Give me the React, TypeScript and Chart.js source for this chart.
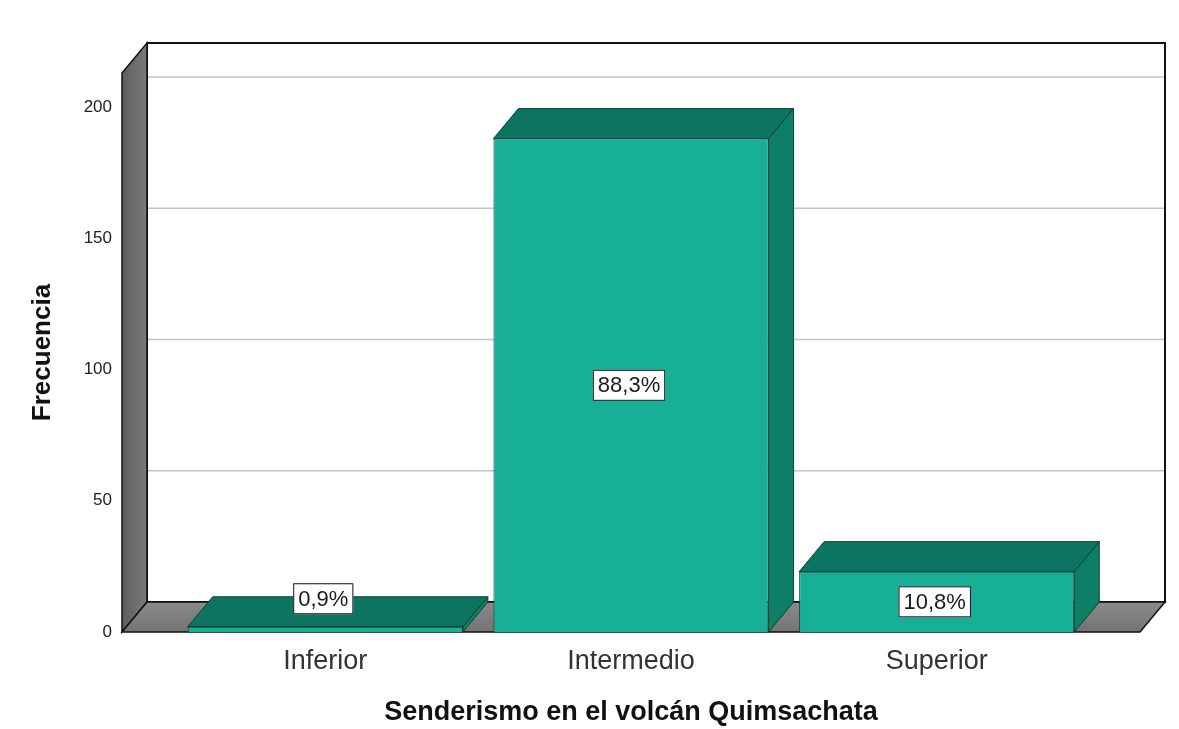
import React, { useEffect, useRef } from "react";
import { Chart, registerables } from "chart.js";

Chart.register(...registerables);

const categories = ["Inferior", "Intermedio", "Superior"];
const frequencies = [2, 188, 23];
const yTickValues = [0, 50, 100, 150, 200];
const yMax = 213;
const xTitle = "Senderismo en el volcán Quimsachata";
const yTitle = "Frecuencia";

const DX = 25;
const DY = -30;
const FONT = "'Liberation Sans', Arial, sans-serif";

const total = frequencies.reduce((a, b) => a + b, 0);
const percentLabels = frequencies.map(
  (v) => (Math.round((v / total) * 1000) / 10).toFixed(1).replace(".", ",") + "%"
);

function poly(ctx: CanvasRenderingContext2D, pts: number[][], fill: string | CanvasGradient, stroke?: string, lw = 1) {
  ctx.beginPath();
  ctx.moveTo(pts[0][0], pts[0][1]);
  for (let i = 1; i < pts.length; i++) ctx.lineTo(pts[i][0], pts[i][1]);
  ctx.closePath();
  ctx.fillStyle = fill;
  ctx.fill();
  if (stroke) {
    ctx.strokeStyle = stroke;
    ctx.lineWidth = lw;
    ctx.stroke();
  }
}

const threeD = {
  id: "threeD",
  beforeDatasetsDraw(chart: any) {
    const { ctx, chartArea } = chart;
    const { left, right, top, bottom } = chartArea;
    const y = chart.scales.y;
    ctx.save();
    // back wall
    ctx.fillStyle = "#ffffff";
    ctx.fillRect(left + DX, top + DY, right - left, bottom - top);
    // grid lines on back wall
    ctx.strokeStyle = "#c4c4c4";
    ctx.lineWidth = 1.5;
    yTickValues.forEach((v) => {
      if (v === 0) return;
      const py = y.getPixelForValue(v) + DY;
      ctx.beginPath();
      ctx.moveTo(left + DX, py);
      ctx.lineTo(right + DX, py);
      ctx.stroke();
    });
    ctx.strokeStyle = "#111";
    ctx.lineWidth = 2;
    ctx.strokeRect(left + DX, top + DY, right - left, bottom - top);
    // left wall
    const gL = ctx.createLinearGradient(left, 0, left + DX, 0);
    gL.addColorStop(0, "#5e5e5e");
    gL.addColorStop(1, "#7a7a7a");
    poly(ctx, [[left, top], [left + DX, top + DY], [left + DX, bottom + DY], [left, bottom]], gL, "#111", 1.5);
    // floor
    const gF = ctx.createLinearGradient(0, bottom + DY, 0, bottom);
    gF.addColorStop(0, "#8a8a8a");
    gF.addColorStop(1, "#747474");
    poly(ctx, [[left, bottom], [left + DX, bottom + DY], [right + DX, bottom + DY], [right, bottom]], gF, "#111", 1.5);
    // bar sides and tops
    const meta = chart.getDatasetMeta(0);
    meta.data.forEach((bar: any) => {
      const { x, y: by, base, width } = bar.getProps(["x", "y", "base", "width"], true);
      const l = x - width / 2;
      const r = x + width / 2;
      poly(ctx, [[r, by], [r + DX, by + DY], [r + DX, base + DY], [r, base]], "#0d7f66", "#0b3f36", 1);
      poly(ctx, [[l, by], [l + DX, by + DY], [r + DX, by + DY], [r, by]], "#0c7461", "#0b3f36", 1);
    });
    ctx.restore();
  },
  afterDatasetsDraw(chart: any) {
    const { ctx } = chart;
    const meta = chart.getDatasetMeta(0);
    ctx.save();
    ctx.font = `22px ${FONT}`;
    ctx.textAlign = "center";
    ctx.textBaseline = "middle";
    meta.data.forEach((bar: any, i: number) => {
      const { x, y: by, base } = bar.getProps(["x", "y", "base"], true);
      const text = percentLabels[i];
      const tw = ctx.measureText(text).width;
      const bw = tw + 10;
      const bh = 31;
      let cy = (by + base) / 2;
      if (base - by < bh) cy = by + DY + 2;
      const cx = x - 2;
      ctx.fillStyle = "#ffffff";
      ctx.fillRect(cx - bw / 2, cy - bh / 2, bw, bh);
      ctx.strokeStyle = "#111";
      ctx.lineWidth = 1;
      ctx.strokeRect(cx - bw / 2 + 0.5, cy - bh / 2 + 0.5, bw - 1, bh - 1);
      ctx.fillStyle = "#1a1a1a";
      ctx.fillText(text, cx, cy + 1);
    });
    ctx.restore();
  },
};

export default function App() {
  const ref = useRef<HTMLCanvasElement | null>(null);
  useEffect(() => {
    if (!ref.current) return;
    const chart = new Chart(ref.current, {
      type: "bar",
      data: {
        datasets: [
          {
            data: frequencies.map((v, i) => ({ x: i, y: v })),
            backgroundColor: "#17b096",
            borderColor: "#0b3f36",
            borderWidth: 1,
            categoryPercentage: 0.9,
            barPercentage: 1,
          },
        ],
      },
      options: {
        animation: false,
        responsive: false,
        events: [],
        layout: { padding: { top: 73, right: 39, bottom: 0, left: 0 } },
        plugins: { legend: { display: false }, tooltip: { enabled: false } },
        scales: {
          x: {
            type: "linear",
            min: -0.665,
            max: 2.665,
            offset: false,
            grid: { display: false, drawTicks: false },
            border: { display: false },
            afterBuildTicks: (scale: any) => {
              scale.ticks = categories.map((_, i) => ({ value: i }));
            },
            afterFit: (scale: any) => {
              scale.height = 97;
            },
            ticks: {
              padding: 13,
              autoSkip: false,
              maxRotation: 0,
              color: "#333",
              font: { family: FONT, size: 27 },
              callback: (v: any) => categories[v] ?? "",
            },
            title: {
              display: true,
              text: xTitle,
              color: "#111",
              padding: { top: 0, bottom: 0 },
              font: { family: FONT, size: 27, weight: "bold" },
            },
          },
          y: {
            min: 0,
            max: yMax,
            grid: { display: false, drawTicks: false },
            border: { display: false },
            afterBuildTicks: (scale: any) => {
              scale.ticks = yTickValues.map((v) => ({ value: v }));
            },
            afterFit: (scale: any) => {
              scale.width = 122;
            },
            ticks: {
              padding: 10,
              color: "#222",
              font: { family: FONT, size: 17 },
            },
            title: {
              display: true,
              text: yTitle,
              color: "#111",
              padding: { top: 27, bottom: 0 },
              font: { family: FONT, size: 26, weight: "bold" },
            },
          },
        },
      },
      plugins: [threeD],
    });
    return () => chart.destroy();
  }, []);
  return (
    <div style={{ position: "fixed", left: 0, top: 0, width: 1179, height: 729, background: "#fff" }}>
      <canvas ref={ref} width={1179} height={729} />
    </div>
  );
}
